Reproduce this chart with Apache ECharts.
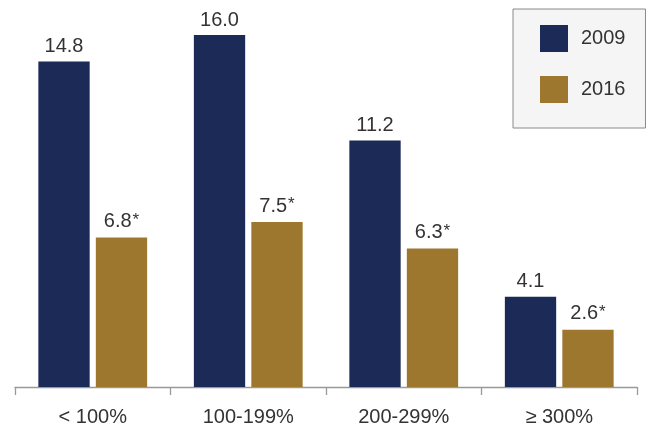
<!DOCTYPE html>
<html>
<head>
<meta charset="utf-8">
<script src="https://cdn.jsdelivr.net/npm/echarts@6/dist/echarts.min.js"></script>
<style>html,body{margin:0;padding:0;background:#fff;}#c{width:655px;height:428px;}</style>
</head>
<body>
<div id="c"></div>
<script>
const categories = ['< 100%', '100-199%', '200-299%', '\u2265 300%'];
const seriesNames = ['2009', '2016'];
const values2009 = [14.8, 16.0, 11.2, 4.1];
const values2016 = [6.8, 7.5, 6.3, 2.6];
const labels2016Marker = '*';

const FONT = '"Liberation Sans", Arial, Helvetica, sans-serif';
const NAVY = '#1b2a56';
const GOLD = '#9d772e';

const chart = echarts.init(document.getElementById('c'), null, {renderer: 'canvas'});
chart.setOption({
  animation: false,
  textStyle: {fontFamily: FONT},
  grid: {left: 15, right: 18, top: 35, bottom: 41, containLabel: false},
  legend: {
    orient: 'vertical',
    left: 513,
    top: 9,
    padding: [16, 20, 25, 27],
    backgroundColor: '#f5f5f5',
    borderColor: '#8a8a8a',
    borderWidth: 1,
    borderRadius: 0,
    itemWidth: 28,
    itemHeight: 27,
    itemGap: 24,
    icon: 'rect',
    textStyle: {fontFamily: FONT, fontSize: 20, color: '#333', padding: [0, 0, 0, 8]},
    data: seriesNames
  },
  xAxis: {
    type: 'category',
    data: categories,
    offset: 1.5,
    axisLine: {lineStyle: {color: '#999', width: 1.3}},
    axisTick: {show: true, length: 8, lineStyle: {color: '#999', width: 1.3}},
    axisLabel: {fontFamily: FONT, fontSize: 20, color: '#333', margin: 19}
  },
  yAxis: {
    type: 'value', min: 0, max: 16, show: false,
    splitLine: {show: false}
  },
  series: [
    {
      name: seriesNames[0], type: 'bar', data: values2009,
      barWidth: '33%', barGap: '12%',
      itemStyle: {color: NAVY},
      label: {show: true, position: 'top', distance: 5, fontFamily: FONT, fontSize: 20, color: '#333',
        formatter: p => p.value.toFixed(1)}
    },
    {
      name: seriesNames[1], type: 'bar', data: values2016,
      barWidth: '33%', barGap: '12%',
      itemStyle: {color: GOLD},
      label: {show: true, position: 'top', distance: 5, fontFamily: FONT, fontSize: 20, color: '#333',
        formatter: p => '{v|' + p.value.toFixed(1) + '}{s|' + labels2016Marker + '}',
        rich: {
          v: {fontFamily: FONT, fontSize: 20, color: '#333', lineHeight: 22},
          s: {fontFamily: FONT, fontSize: 17, color: '#333', verticalAlign: 'top', lineHeight: 17, padding: [1, 0, 0, 1]}
        }}
    }
  ]
});
</script>
</body>
</html>
